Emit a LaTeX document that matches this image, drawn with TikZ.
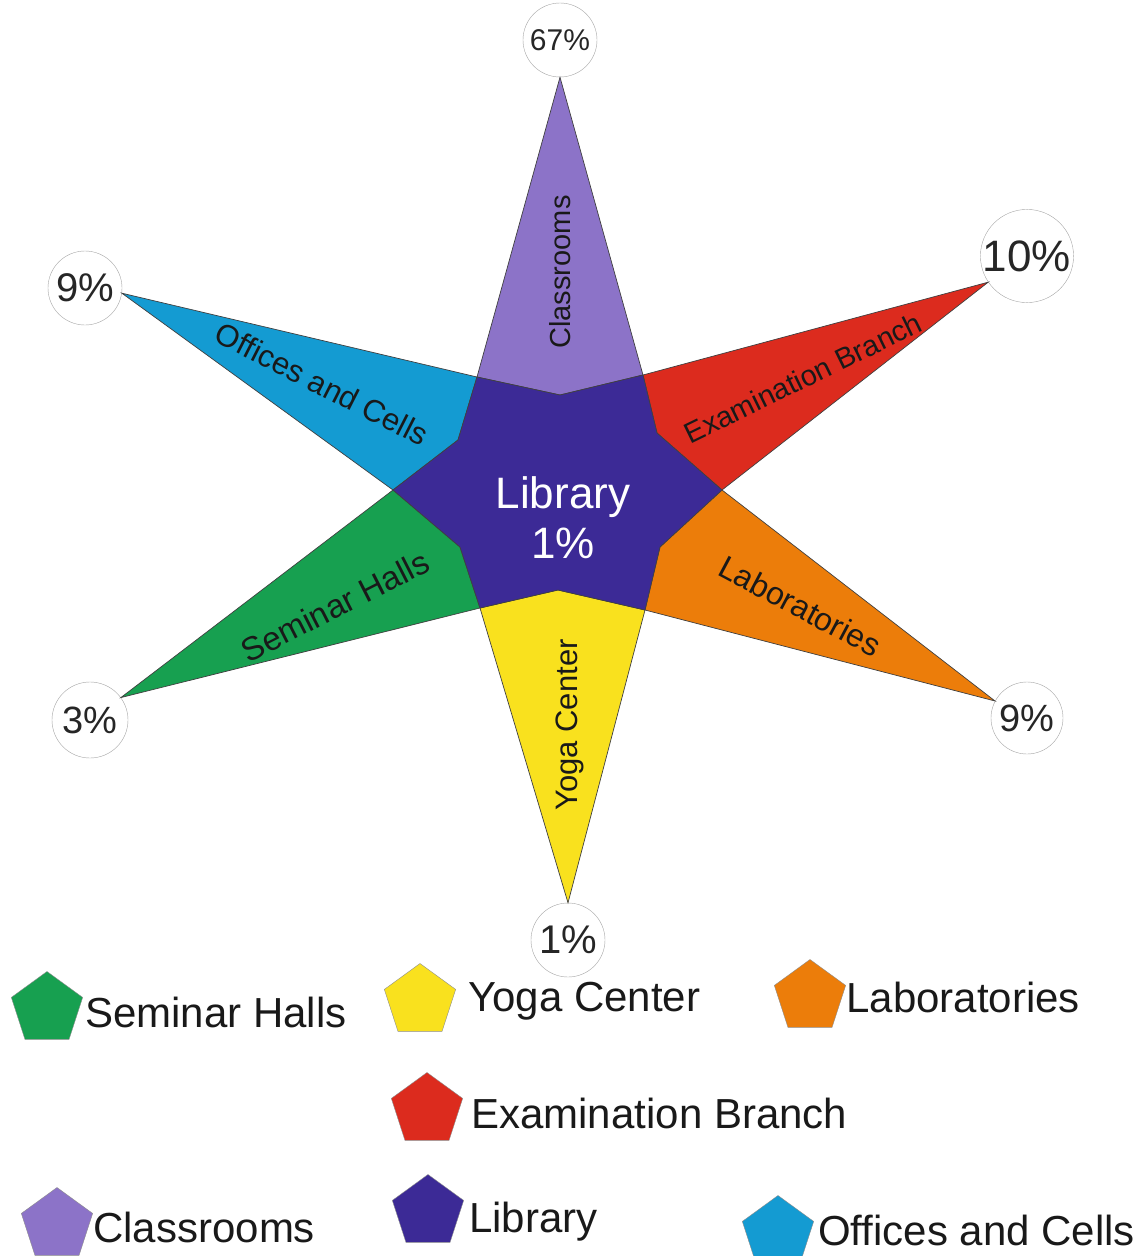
\documentclass[tikz,border=0pt]{standalone}
\usepackage{fontspec}
\setmainfont{Liberation Sans}
\usetikzlibrary{shapes.geometric,positioning}

\definecolor{classcol}{HTML}{8C73C8}
\definecolor{examcol}{HTML}{DC2B1E}
\definecolor{labcol}{HTML}{EC7D0A}
\definecolor{yogacol}{HTML}{F9E11E}
\definecolor{seminarcol}{HTML}{17A050}
\definecolor{officecol}{HTML}{149BD2}
\definecolor{librarycol}{HTML}{3C2A96}

\tikzset{
    pct/.style={circle, draw=black!35, fill=white, inner sep=0pt, text=black!85},
    arm/.style={draw=black!75, line width=0.7pt},
    armtext/.style={text=black!90, inner sep=0pt},
    key/.style={regular polygon, regular polygon sides=5, draw=black!45,
        inner sep=0pt, minimum size=75pt},
    keytext/.style={font=\fontsize{42}{48}\selectfont, text=black!90, inner sep=0pt}
}

\begin{document}
\begin{tikzpicture}[x=1pt,y=-1pt]
    \useasboundingbox (0,0) rectangle (1147,1256);

    % value circles
    \node [pct, minimum size=74pt, font=\fontsize{30}{34}\selectfont] (c67) at (560,40) {67\%};
    \node [pct, minimum size=90pt, font=\fontsize{44}{50}\selectfont] (c10) at (1027,256) {10\%};
    \node [pct, minimum size=74pt, font=\fontsize{40}{46}\selectfont] (c9l) at (85,288) {9\%};
    \node [pct, minimum size=76pt, font=\fontsize{38}{44}\selectfont] (c3) at (90,720) {3\%};
    \node [pct, minimum size=72pt, font=\fontsize{38}{44}\selectfont] (c9r) at (1027,718) {9\%};
    \node [pct, minimum size=74pt, font=\fontsize{40}{46}\selectfont] (c1) at (568,940) {1\%};

    % corners of the library star
    \coordinate (lo1) at (477,377);
    \coordinate (lo2) at (643,375);
    \coordinate (lo3) at (722,490);
    \coordinate (lo4) at (645,610);
    \coordinate (lo5) at (480,608);
    \coordinate (lo6) at (393,490);
    \coordinate (li1) at (560,395);
    \coordinate (li2) at (657,433);
    \coordinate (li3) at (660,547);
    \coordinate (li4) at (558,590);
    \coordinate (li5) at (460,547);
    \coordinate (li6) at (458,440);

    % arms
    \draw [arm, fill=classcol] (c67.south) -- (lo2) -- (li1) -- (lo1) -- cycle;
    \draw [arm, fill=examcol] (c10.214) -- (lo3) -- (li2) -- (lo2) -- cycle;
    \draw [arm, fill=labcol] (c9r.152) -- (lo4) -- (li3) -- (lo3) -- cycle;
    \draw [arm, fill=yogacol] (c1.north) -- (lo5) -- (li4) -- (lo4) -- cycle;
    \draw [arm, fill=seminarcol] (c3.36) -- (lo6) -- (li5) -- (lo5) -- cycle;
    \draw [arm, fill=officecol] (c9l.-8) -- (lo1) -- (li6) -- (lo6) -- cycle;

    % library in the middle
    \draw [arm, fill=librarycol] (lo1) -- (li1) -- (lo2) -- (li2) -- (lo3) -- (li3)
        -- (lo4) -- (li4) -- (lo5) -- (li5) -- (lo6) -- (li6) -- cycle;
    \node [text=white, align=center, font=\fontsize{44}{50}\selectfont] (lib) at (563,518) {Library\\1\%};

    % arm labels
    \node [armtext, rotate=90, font=\fontsize{29}{34}\selectfont] (lclass) at (560,272) {Classrooms};
    \node [armtext, rotate=26, font=\fontsize{29}{34}\selectfont] (lexam) at (803,378) {Examination Branch};
    \node [armtext, rotate=-28, font=\fontsize{32}{36}\selectfont] (llab) at (800,606) {Laboratories};
    \node [armtext, rotate=90, font=\fontsize{31}{36}\selectfont] (lyoga) at (570,725) {Yoga Center};
    \node [armtext, rotate=27, font=\fontsize{33}{38}\selectfont] (lsem) at (335,606) {Seminar Halls};
    \node [armtext, rotate=-27, font=\fontsize{31}{35}\selectfont] (loff) at (322,384) {Offices and Cells};

    % legend
    \node [key, fill=seminarcol] (kseminar) at (47,1009) {};
    \node [key, fill=yogacol] (kyoga) at (420,1001) {};
    \node [key, fill=labcol] (klab) at (810,997) {};
    \node [key, fill=examcol] (kexam) at (427,1110) {};
    \node [key, fill=classcol] (kclass) at (57,1225) {};
    \node [key, fill=librarycol] (klib) at (428,1212) {};
    \node [key, fill=officecol] (koffice) at (778,1233) {};
    \node [keytext, right=6pt of kseminar, yshift=-3pt] (tseminar) {Seminar Halls};
    \node [keytext, right=16pt of kyoga] (tyoga) {Yoga Center};
    \node [keytext, right=4pt of klab] (tlab) {Laboratories};
    \node [keytext, right=12pt of kexam, yshift=-3pt] (texam) {Examination Branch};
    \node [keytext, right=4pt of kclass, yshift=-2pt] (tclass) {Classrooms};
    \node [keytext, right=9pt of klib, yshift=-10pt] (tlib) {Library};
    \node [keytext, right=8pt of koffice, yshift=3pt] (toffice) {Offices and Cells};
\end{tikzpicture}
\end{document}
